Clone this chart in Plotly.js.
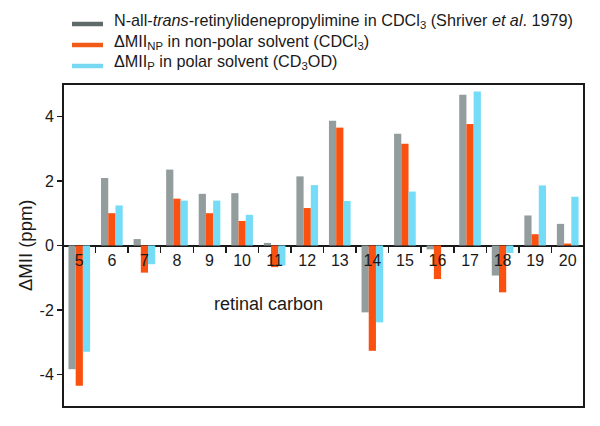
<!DOCTYPE html>
<html>
<head>
<meta charset="utf-8">
<script src="https://cdn.plot.ly/plotly-3.0.1.min.js"></script>
<style>html,body{margin:0;padding:0;background:#fff;}#chart{width:600px;height:426px;}</style>
</head>
<body>
<div id="chart"></div>
<script>
const carbons = ['5','6','7','8','9','10','11','12','13','14','15','16','17','18','19','20'];
const shriver = [-3.83, 2.09, 0.20, 2.35, 1.60, 1.62, 0.08, 2.14, 3.86, -2.07, 3.46, -0.12, 4.67, -0.93, 0.93, 0.67];
const nonPolar = [-4.34, 1.00, -0.84, 1.45, 1.00, 0.76, -0.67, 1.16, 3.65, -3.26, 3.15, -1.04, 3.76, -1.45, 0.35, 0.06];
const polar = [-3.29, 1.24, -0.58, 1.39, 1.39, 0.95, -0.62, 1.87, 1.38, -2.38, 1.67, 0.00, 4.77, -0.23, 1.86, 1.51];
const legendNames = [
  'N-all-<i>trans</i>-retinylidenepropylimine in CDCl<sub>3</sub> (Shriver <i>et al</i>. 1979)',
  '\u0394MII<sub>NP</sub> in non-polar solvent (CDCl<sub>3</sub>)',
  '\u0394MII<sub>P</sub> in polar solvent (CD<sub>3</sub>OD)'
];
const yTicks = [-4, -2, 0, 2, 4];

const barColors = ['#939d9d', '#fb5110', '#74dcf6'];
const legColors = ['#5f6a6a', '#f25a18', '#78d8f2'];
const FONT = 'Liberation Sans, Arial, Helvetica, sans-serif';
const INK = '#1a1a1a';

// plot-area geometry in page pixels (for legend placement only)
const W = 600, H = 426, ML = 63, MR = 16, MT = 84, MB = 19;
const PW = W - ML - MR, PH = H - MT - MB;
const px = x => (x - ML) / PW;
const py = y => (H - MB - y) / PH;

const series = [shriver, nonPolar, polar];
const traces = series.map((s, i) => ({
  type: 'bar', x: carbons, y: s, name: legendNames[i],
  marker: {color: barColors[i], line: {width: 0}}, showlegend: false
}));

const legendLineY = [24, 45, 66];
const legendTextY = [21.5, 42, 62.5];
const shapes = [{type: 'rect', xref: 'paper', yref: 'paper', x0: 0, x1: 1, y0: 0, y1: 1,
  line: {color: INK, width: 2}, fillcolor: 'rgba(0,0,0,0)', layer: 'above'}];
const annotations = [
  {text: 'retinal carbon', xref: 'paper', yref: 'paper', x: px(268), y: py(304),
   xanchor: 'center', yanchor: 'middle', showarrow: false,
   font: {family: FONT, size: 18, color: INK}},
  {text: '\u0394MII (ppm)', xref: 'paper', yref: 'paper', x: px(25), y: py(245),
   xanchor: 'center', yanchor: 'middle', textangle: -90, showarrow: false,
   font: {family: FONT, size: 18.5, color: INK}}
];
legendNames.forEach((n, i) => {
  shapes.push({type: 'line', xref: 'paper', yref: 'paper', x0: px(72), x1: px(103),
    y0: py(legendLineY[i]), y1: py(legendLineY[i]), line: {color: legColors[i], width: 4.5}});
  annotations.push({text: n, xref: 'paper', yref: 'paper', x: px(112), y: py(legendTextY[i]),
    xanchor: 'left', yanchor: 'middle', showarrow: false,
    font: {family: FONT, size: 16.2, color: INK}});
});

const layout = {
  width: W, height: H,
  margin: {l: ML, r: MR, t: MT, b: MB},
  paper_bgcolor: '#fff', plot_bgcolor: '#fff',
  font: {family: FONT, size: 16, color: INK},
  barmode: 'group', bargap: 0.335, bargroupgap: 0,
  showlegend: false,
  xaxis: {type: 'category', anchor: 'free', position: 0.5, tickson: 'boundaries',
    ticks: 'outside', ticklen: 6, tickwidth: 1.5, tickcolor: INK, ticklabelstandoff: 3,
    showline: false, showgrid: false, zeroline: false,
    tickfont: {family: FONT, size: 16, color: INK}},
  yaxis: {range: [-5, 5], tickvals: yTicks, ticktext: yTicks.map(String),
    ticks: 'outside', ticklen: 5, tickwidth: 1.5, tickcolor: INK,
    showline: false, showgrid: false, zeroline: true, zerolinecolor: INK, zerolinewidth: 2,
    tickfont: {family: FONT, size: 16, color: INK}},
  shapes: shapes,
  annotations: annotations
};

Plotly.newPlot('chart', traces, layout, {displayModeBar: false, staticPlot: true});
</script>
</body>
</html>
